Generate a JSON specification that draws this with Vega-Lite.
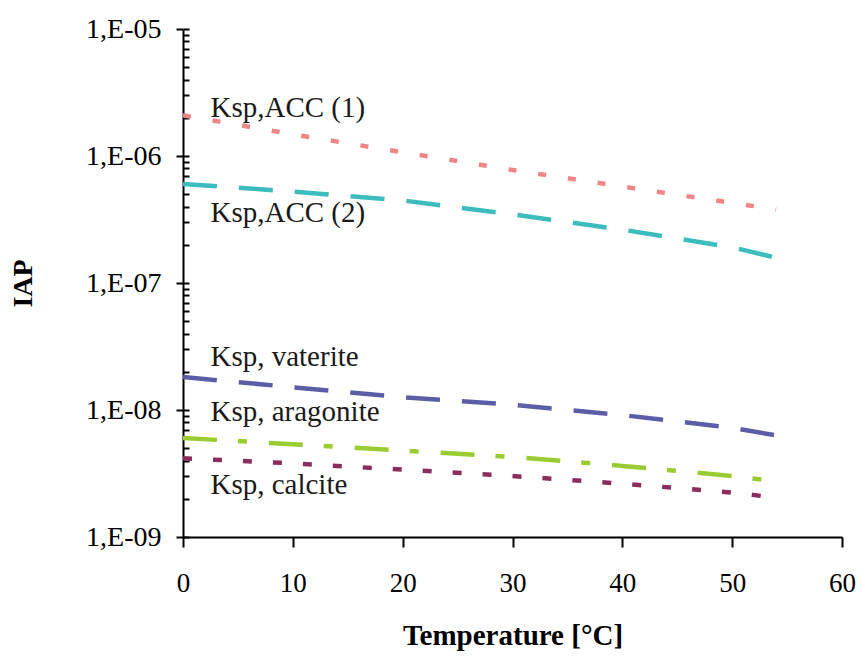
{
  "$schema": "https://vega.github.io/schema/vega-lite/v6.json",
  "width": 659,
  "height": 508,
  "autosize": "none",
  "padding": {"left": 183, "top": 29, "right": 20, "bottom": 129},
  "background": "white",
  "config": {"view": {"stroke": null}, "font": "Liberation Serif"},
  "datasets": {
    "curves": [
      {"series": "ACC1", "T": 0, "IAP": 2.09e-6},
      {"series": "ACC1", "T": 10, "IAP": 1.48e-6},
      {"series": "ACC1", "T": 20, "IAP": 1.07e-6},
      {"series": "ACC1", "T": 30, "IAP": 7.76e-7},
      {"series": "ACC1", "T": 40, "IAP": 5.75e-7},
      {"series": "ACC1", "T": 50, "IAP": 4.27e-7},
      {"series": "ACC1", "T": 54, "IAP": 3.80e-7},
      {"series": "ACC2", "T": 0, "IAP": 6.03e-7},
      {"series": "ACC2", "T": 10, "IAP": 5.25e-7},
      {"series": "ACC2", "T": 20, "IAP": 4.47e-7},
      {"series": "ACC2", "T": 30, "IAP": 3.47e-7},
      {"series": "ACC2", "T": 40, "IAP": 2.63e-7},
      {"series": "ACC2", "T": 50, "IAP": 1.91e-7},
      {"series": "ACC2", "T": 54, "IAP": 1.58e-7},
      {"series": "vaterite", "T": 0, "IAP": 1.82e-8},
      {"series": "vaterite", "T": 10, "IAP": 1.51e-8},
      {"series": "vaterite", "T": 20, "IAP": 1.26e-8},
      {"series": "vaterite", "T": 30, "IAP": 1.10e-8},
      {"series": "vaterite", "T": 40, "IAP": 9.12e-9},
      {"series": "vaterite", "T": 50, "IAP": 7.24e-9},
      {"series": "vaterite", "T": 54, "IAP": 6.31e-9},
      {"series": "aragonite", "T": 0, "IAP": 6.03e-9},
      {"series": "aragonite", "T": 10, "IAP": 5.37e-9},
      {"series": "aragonite", "T": 20, "IAP": 4.79e-9},
      {"series": "aragonite", "T": 30, "IAP": 4.27e-9},
      {"series": "aragonite", "T": 40, "IAP": 3.63e-9},
      {"series": "aragonite", "T": 50, "IAP": 3.02e-9},
      {"series": "aragonite", "T": 54, "IAP": 2.75e-9},
      {"series": "calcite", "T": 0, "IAP": 4.17e-9},
      {"series": "calcite", "T": 10, "IAP": 3.80e-9},
      {"series": "calcite", "T": 20, "IAP": 3.39e-9},
      {"series": "calcite", "T": 30, "IAP": 3.02e-9},
      {"series": "calcite", "T": 40, "IAP": 2.63e-9},
      {"series": "calcite", "T": 50, "IAP": 2.24e-9},
      {"series": "calcite", "T": 54, "IAP": 2.04e-9}
    ],
    "labels": [
      {"label": "Ksp,ACC (1)", "T": 2.5, "IAP": 2.03e-6},
      {"label": "Ksp,ACC (2)", "T": 2.5, "IAP": 3.02e-7},
      {"label": "Ksp, vaterite", "T": 2.5, "IAP": 2.22e-8},
      {"label": "Ksp, aragonite", "T": 2.5, "IAP": 8.19e-9},
      {"label": "Ksp, calcite", "T": 2.5, "IAP": 2.18e-9}
    ]
  },
  "layer": [
    {
      "data": {"name": "curves"},
      "mark": {"type": "line", "strokeWidth": 4.5, "strokeCap": "butt", "clip": false},
      "encoding": {
        "x": {
          "field": "T", "type": "quantitative",
          "scale": {"domain": [0, 60], "nice": false},
          "axis": {
            "values": [0, 10, 20, 30, 40, 50, 60],
            "title": "Temperature [°C]",
            "titleFont": "Liberation Serif", "titleFontSize": 29, "titleFontWeight": "bold", "titleColor": "black", "titlePadding": 25,
            "labelFont": "Liberation Serif", "labelFontSize": 27, "labelColor": "black", "labelPadding": 23, "labelFlush": false,
            "tickSize": 10, "tickWidth": 2, "tickColor": "black",
            "domainWidth": 2, "domainColor": "black", "grid": false
          }
        },
        "y": {
          "field": "IAP", "type": "quantitative",
          "scale": {"type": "log", "domain": [1e-9, 1e-5], "nice": false},
          "axis": {
            "orient": "left",
            "values": [1e-9, 1e-8, 1e-7, 1e-6, 1e-5],
            "labelExpr": "'1,E-0' + round(-log(datum.value)/LN10)",
            "title": "IAP",
            "titleFont": "Liberation Serif", "titleFontSize": 28, "titleFontWeight": "bold", "titleColor": "black", "titlePadding": 48,
            "labelFont": "Liberation Serif", "labelFontSize": 28, "labelColor": "black", "labelPadding": 15, "labelOverlap": false,
            "tickSize": 7, "tickWidth": 2, "tickColor": "black",
            "domainWidth": 2, "domainColor": "black", "grid": false
          }
        },
        "color": {
          "field": "series", "type": "nominal",
          "scale": {"domain": ["ACC1", "ACC2", "vaterite", "aragonite", "calcite"], "range": ["#f08585", "#3cbcbc", "#5b5ea6", "#99cc33", "#8b2d5c"]},
          "legend": null
        },
        "strokeDash": {
          "field": "series", "type": "nominal",
          "scale": {"domain": ["ACC1", "ACC2", "vaterite", "aragonite", "calcite"], "range": [[8, 22], [34, 22], [34, 22], [34, 21, 9, 22], [9, 21]]},
          "legend": null
        }
      }
    },
    {
      "data": {"name": "labels"},
      "mark": {"type": "text", "align": "left", "baseline": "alphabetic", "fontSize": 29, "font": "Liberation Serif", "color": "#1a1a1a"},
      "encoding": {
        "x": {"field": "T", "type": "quantitative"},
        "y": {
          "field": "IAP", "type": "quantitative",
          "axis": {
            "orient": "left",
            "values": [1e-9, 2e-9, 3e-9, 4e-9, 5e-9, 6e-9, 7e-9, 8e-9, 9e-9, 1e-8, 2e-8, 3e-8, 4e-8, 5e-8, 6e-8, 7e-8, 8e-8, 9e-8, 1e-7, 2e-7, 3e-7, 4e-7, 5e-7, 6e-7, 7e-7, 8e-7, 9e-7, 1e-6, 2e-6, 3e-6, 4e-6, 5e-6, 6e-6, 7e-6, 8e-6, 9e-6, 1e-5],
            "labels": false, "domain": false, "title": null, "grid": false,
            "tickSize": -6, "tickWidth": 2, "tickColor": "black"
          }
        },
        "text": {"field": "label", "type": "nominal"}
      }
    }
  ],
  "resolve": {"axis": {"y": "independent"}}
}
